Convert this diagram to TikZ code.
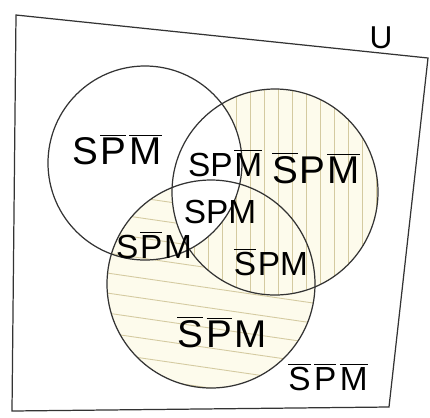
\documentclass[tikz,border=0pt]{standalone}
\usepackage{fontspec}
\setsansfont{Liberation Sans}
\usetikzlibrary{positioning}
\definecolor{hatchcol}{RGB}{212,202,160}
\definecolor{tintcol}{RGB}{253,251,236}
\newcommand{\nt}[1]{\kern1pt$\overline{\mbox{#1}}$\kern1pt}

\begin{document}
\begin{tikzpicture}[x=0.02cm,y=-0.02cm,
  setline/.style={line width=0.7pt,black!80},
  lab/.style={font=\sffamily\fontsize{19}{19}\selectfont,inner sep=0pt},
  biglab/.style={font=\sffamily\fontsize{22}{22}\selectfont,inner sep=0pt},
  hatch/.style={hatchcol,line width=0.5pt}]
  \useasboundingbox (0,0) rectangle (430,417);
  \coordinate (S) at (145,163); \coordinate (P) at (275,192); \coordinate (M) at (211,284);
  \def\rS{97} \def\rP{103} \def\rM{104}
  % M outside P: slanted hatching
  \begin{scope}
    \clip (M) circle (\rM);
    \fill[tintcol] (M) circle (\rM);
    \foreach \y in {172,192,...,400}{\draw[hatch] (100,\y) -- (320,\y+32);}
    \fill[white] (P) circle (\rP);
  \end{scope}
  % P outside S: vertical hatching
  \begin{scope}
    \clip (P) circle (\rP);
    \fill[tintcol] (P) circle (\rP);
    \foreach \x in {180,194,...,380}{\draw[hatch] (\x,85) -- (\x,300);}
    \fill[white] (S) circle (\rS);
  \end{scope}
  % the three sets and the universe
  \draw[setline] (S) circle (\rS);
  \draw[setline] (P) circle (\rP);
  \draw[setline] (M) circle (\rM);
  \draw[setline] (16,15) -- (428,58) -- (389,407) -- (12,411) -- cycle;
  \node[font=\sffamily\fontsize{18}{18}\selectfont] (univ) at (381,38) {U};
  % region labels
  \node[biglab] (spm1) at (118,150) {S\nt{P}\nt{M}};
  \node[lab] (spm2) at (226,163) {SP\nt{M}};
  \node[biglab] (spm3) at (316,168) {\nt{S}P\nt{M}};
  \node[lab] (spm4) at (220,212) {SPM};
  \node[lab] (spm5) at (154,245) {S\nt{P}M};
  \node[lab] (spm6) at (270,262) {\nt{S}PM};
  \node[biglab] (spm7) at (221,332) {\nt{S}\nt{P}M};
  \node[lab] (spm8) at (328,377) {\nt{S}\nt{P}\nt{M}};
\end{tikzpicture}
\end{document}
